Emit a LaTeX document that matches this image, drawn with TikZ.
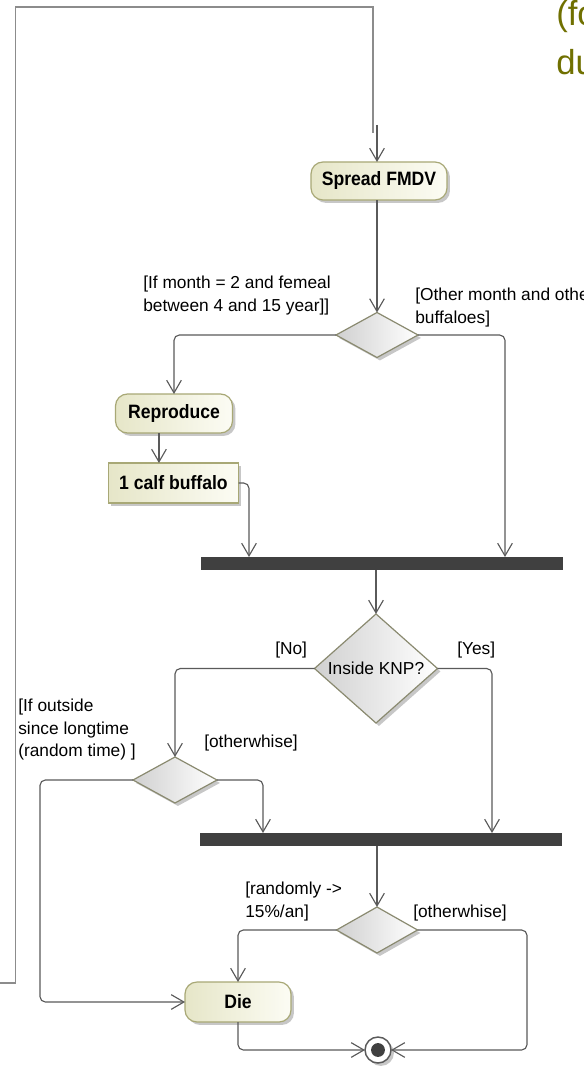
\documentclass[tikz,border=0pt]{standalone}
\usepackage{fontspec}
\setmainfont{Liberation Sans}
\newfontfamily\actfont[FakeStretch=0.91]{Liberation Sans}
\usetikzlibrary{shapes.geometric,arrows.meta,shadows}

\definecolor{actleft}{RGB}{230,230,200}
\definecolor{actright}{RGB}{252,252,244}
\definecolor{actborder}{RGB}{168,168,118}
\definecolor{decleft}{RGB}{208,208,208}
\definecolor{decborder}{RGB}{138,138,112}
\definecolor{flowgray}{RGB}{90,90,90}
\definecolor{loopgray}{RGB}{140,140,140}
\definecolor{bardark}{RGB}{64,64,64}
\definecolor{olivetext}{RGB}{112,112,0}

\tikzset{
  soft/.style={drop shadow={shadow xshift=2.2pt,shadow yshift=-2.2pt,fill=black,opacity=0.22}},
  action/.style={rectangle,rounded corners=9pt,draw=actborder,line width=0.9pt,
    left color=actleft,right color=actright,soft,outer sep=0pt,inner sep=0pt,
    font=\actfont\bfseries\fontsize{14.5}{16}\selectfont},
  objbox/.style={rectangle,draw=actborder,line width=0.9pt,
    left color=actleft,right color=actright,soft,outer sep=0pt,inner sep=0pt,
    font=\actfont\bfseries\fontsize{14.5}{16}\selectfont},
  decision/.style={diamond,draw=decborder,line width=0.9pt,left color=decleft,right color=white,
    soft,outer sep=0pt,inner sep=0pt,font=\fontsize{13}{16}\selectfont},
  joinbar/.style={rectangle,fill=bardark,outer sep=0pt,inner sep=0pt,
    minimum width=271.5pt,minimum height=9.75pt},
  finalnode/.style={circle,draw=flowgray,line width=1.1pt,fill=white,minimum size=19.5pt,
    inner sep=0pt,outer sep=0pt,soft,
    path picture={\fill[black!75] (path picture bounding box.center) circle (5.2pt);}},
  flow/.style={draw=flowgray,line width=0.85pt,rounded corners=4pt,
    -{Straight Barb[length=9.5pt,width=11pt,line width=0.85pt]}},
  plainflow/.style={draw=flowgray,line width=0.85pt,rounded corners=4pt},
  loopline/.style={draw=loopgray,line width=0.8pt},
  guard/.style={inner sep=0pt,align=left,font=\fontsize{13}{16.9}\selectfont},
  heading/.style={inner sep=0pt,text=olivetext,font=\fontsize{26}{34}\selectfont,anchor=base west}
}

\begin{document}
\begin{tikzpicture}[x=0.75pt,y=-0.75pt]
\useasboundingbox (0,0) rectangle (583,1070);
\clip (0,0) rectangle (583,1070);
\fill[white] (0,0) rectangle (583,1070);

% heading fragments in the top right corner
\node[heading] (h1) at (556,26) {(fo};
\node[heading] (h2) at (556,75) {du};

% activities, decisions, joins
\node[action,minimum width=102pt,minimum height=28.5pt] (spread) at (379,181) {Spread FMDV};
\node[decision,minimum width=61.5pt,minimum height=33.75pt] (d1) at (377,335) {};
\node[action,minimum width=87.75pt,minimum height=29.25pt] (repro) at (174,413.5) {Reproduce};
\node[objbox,minimum width=97.5pt,minimum height=30pt] (calf) at (173.5,483) {1 calf buffalo};
\node[joinbar] (bar1) at (382,563.5) {};
\node[decision,minimum width=92.25pt,minimum height=77.25pt] (knp) at (376,668.5) {Inside KNP?};
\node[decision,minimum width=63pt,minimum height=34.5pt] (d2) at (175,780) {};
\node[joinbar] (bar2) at (380.5,839.5) {};
\node[decision,minimum width=60.75pt,minimum height=34.5pt] (d3) at (377,930) {};
\node[action,minimum width=79.5pt,minimum height=30pt] (die) at (238,1002) {Die};
\node[finalnode] (final) at (378,1050) {};

% guard labels
\node[guard,anchor=north west] (g1) at (143,276) {[If month = 2 and femeal\\between 4 and 15 year]]};
\node[guard,anchor=north west] (g2) at (415,288) {[Other month and other\\buffaloes]};
\node[guard,anchor=west] (gno) at (275,650) {[No]};
\node[guard,anchor=west] (gyes) at (457,650) {[Yes]};
\node[guard,anchor=north west] (g3) at (18,699) {[If outside\\since longtime\\(random time) ]};
\node[guard,anchor=west] (g4) at (204,743) {[otherwhise]};
\node[guard,anchor=north west] (g5) at (245,882) {[randomly ->\\15\%/an]};
\node[guard,anchor=west] (g6) at (413,913) {[otherwhise]};

% helper points for the connectors
\coordinate (loopin) at (0,983);
\coordinate (loopend) at (377,125);
\coordinate (j1l) at (249,557);
\coordinate (j1r) at (505,557);
\coordinate (j2l) at (263,833);
\coordinate (j2r) at (492,833);
\coordinate (leftrail) at (40,0);
\coordinate (rightrail) at (527,0);

% loop coming back from below
\draw[loopline] (loopin) -- (15.5,983) -- (15.5,7) -- (373,7) -- (373,133);
\draw[flow] (loopend) -- (loopend |- spread.north);

% control flow
\draw[flow] (spread.south -| d1.north) -- (d1.north);
\draw[flow] (d1.west) -| (repro.north);
\draw[flow] (d1.east) -| (j1r);
\draw[flow] ([xshift=-10.9pt]repro.south -| calf.south) -- ([xshift=-10.9pt]calf.north);
\draw[flow] (calf.east) -| (j1l);
\draw[flow] (bar1.south -| knp.north) -- (knp.north);
\draw[flow] (knp.west) -| (d2.north);
\draw[flow] (knp.east) -| (j2r);
\draw[flow] (d2.east) -| (j2l);
\draw[flow] (d2.west) -- (leftrail |- d2.west) -- (leftrail |- die.west) -- (die.west);
\draw[flow] (bar2.south -| d3.north) -- (d3.north);
\draw[flow] (d3.west) -| (die.north);
\draw[flow] (d3.east) -- (rightrail |- d3.east) -- (rightrail |- final.east) -- (final.east);
\draw[flow] (die.south) |- (final.west);
\end{tikzpicture}
\end{document}
